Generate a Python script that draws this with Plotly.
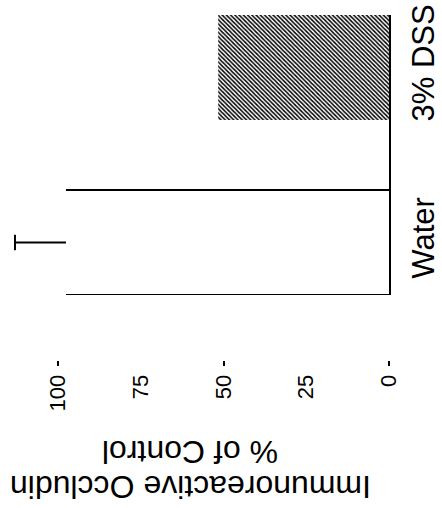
import plotly.graph_objects as go

# ---- data ----
categories = ["Water", "3% DSS"]
values = [97.6, 51.6]
errors_plus = [15.4, 0.0]
tick_values = [0, 25, 50, 75, 100]
tick_labels = ["0", "25", "50", "75", "100"]
major_ticks = [0, 50, 100]
axis_title_lines = ["Immunoreactive Occludin", "% of Control"]

FONT = "Liberation Sans, Arial, Helvetica, sans-serif"
BAR_W = 0.6
positions = list(range(len(categories)))

fig = go.Figure()

# Water bar: white fill, top/bottom edges only
fig.add_trace(go.Bar(
    y=[positions[0]], x=[values[0]], orientation="h", width=BAR_W,
    marker=dict(color="white", line=dict(width=0)),
    showlegend=False, hoverinfo="skip",
))
edge_x, edge_y = [], []
for off in (-BAR_W / 2, BAR_W / 2):
    edge_x += [0, values[0], None]
    edge_y += [positions[0] + off, positions[0] + off, None]
fig.add_trace(go.Scatter(x=edge_x, y=edge_y, mode="lines",
                         line=dict(color="black", width=2),
                         showlegend=False, hoverinfo="skip"))

# one-sided error bar (stem + outer cap) for Water
err_end = values[0] + errors_plus[0]
fig.add_trace(go.Scatter(x=[values[0], err_end], y=[positions[0]] * 2,
                         mode="lines", line=dict(color="black", width=2),
                         showlegend=False, hoverinfo="skip"))
fig.add_trace(go.Scatter(x=[err_end], y=[positions[0]], mode="markers",
                         marker=dict(symbol="line-ns", size=11,
                                     line=dict(color="black", width=2)),
                         showlegend=False, hoverinfo="skip"))

# DSS bar: hatched
fig.add_trace(go.Bar(
    y=[positions[1]], x=[values[1]], orientation="h", width=BAR_W,
    marker=dict(color="white", line=dict(width=0),
                pattern=dict(shape="\\", fgcolor="black", bgcolor="white",
                             size=3, solidity=0.5, fillmode="replace")),
    showlegend=False, hoverinfo="skip",
))

# invisible trace for tick-mark axis
fig.add_trace(go.Scatter(x=[0], y=[0], xaxis="x2", mode="markers",
                         marker=dict(opacity=0), showlegend=False,
                         hoverinfo="skip"))

X_RANGE = [114.5, 0]

fig.update_layout(
    width=442, height=508,
    margin=dict(l=10, r=53, t=15, b=148, autoexpand=False),
    paper_bgcolor="white", plot_bgcolor="white",
    barmode="overlay",
    font=dict(family=FONT, color="black"),
    xaxis=dict(range=X_RANGE, anchor="free", position=0, automargin=False,
               tickmode="array", tickvals=tick_values, ticktext=tick_labels,
               tickangle=-90, ticks="outside", ticklen=5,
               tickcolor="rgba(0,0,0,0)",
               tickfont=dict(size=22, family=FONT, color="black"),
               showline=False, zeroline=False, showgrid=False),
    xaxis2=dict(range=X_RANGE, overlaying="x", anchor="free", position=0,
                side="bottom", automargin=False,
                tickmode="array", tickvals=major_ticks,
                ticks="outside", ticklen=5, tickwidth=1.5, tickcolor="black",
                showticklabels=False, showline=False, zeroline=False,
                showgrid=False),
    yaxis=dict(domain=[0.1884, 1], range=[-BAR_W / 2, 1 + BAR_W / 2],
               side="right", automargin=False,
               tickmode="array", tickvals=positions,
               ticktext=categories, tickangle=-90, ticks="",
               ticklabelstandoff=6,
               tickfont=dict(size=31, family=FONT, color="black"),
               showline=True, linecolor="black", linewidth=1.5,
               zeroline=False, showgrid=False),
    annotations=[
        dict(text=axis_title_lines[0], x=0.4749, y=-0.368, xref="paper",
             yref="paper", xanchor="center", yanchor="middle",
             textangle=180, showarrow=False,
             font=dict(size=32, family=FONT, color="black")),
        dict(text=axis_title_lines[1], x=0.4749, y=-0.265, xref="paper",
             yref="paper", xanchor="center", yanchor="middle",
             textangle=180, showarrow=False,
             font=dict(size=32, family=FONT, color="black")),
    ],
)

fig.write_html(
    "out.html",
    config={"displayModeBar": False},
    post_script="document.body.style.margin='0';document.body.style.overflow='hidden';",
)
